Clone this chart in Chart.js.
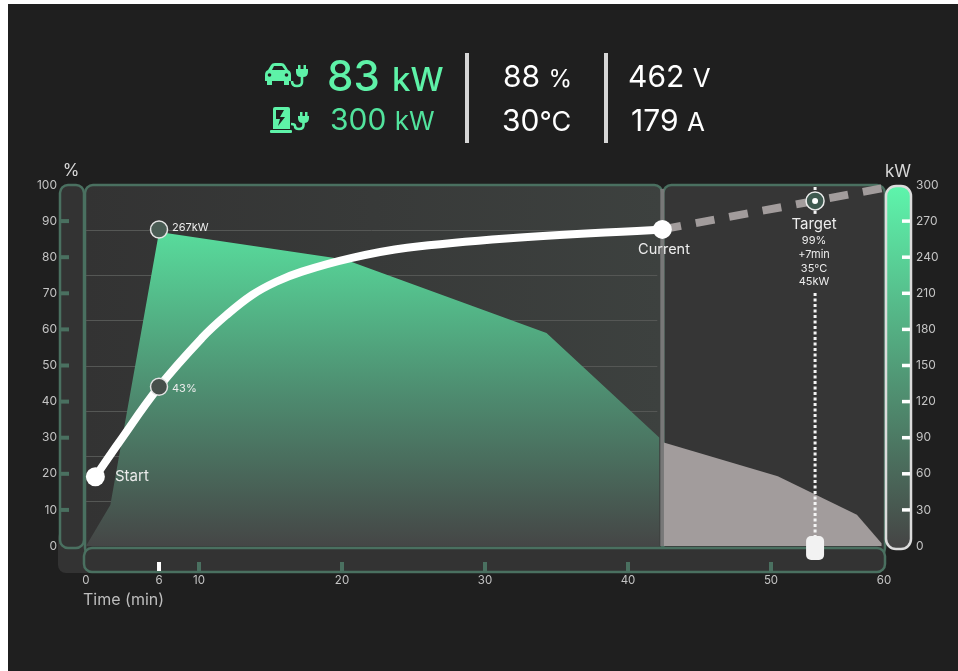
<!DOCTYPE html>
<html>
<head>
<meta charset="utf-8">
<title>Charging curve</title>
<script src="https://cdn.jsdelivr.net/npm/chart.js@4"></script>
<style>
  html, body { margin: 0; padding: 0; background: #fff; }
  body { width: 958px; height: 671px; position: relative; overflow: hidden; font-family: Inter, "Noto Sans", sans-serif; }
  #page { position: absolute; left: 8px; top: 4px; right: 0; bottom: 0; background: #1f1f1f; }
  canvas { position: absolute; left: 0; top: 0; }
  .num { position: absolute; white-space: nowrap; color: #fff; line-height: 1; transform: translateY(-50%); }
  .green { color: #5ef2a8; }
  .sep { position: absolute; top: 53px; width: 4px; height: 90px; background: #d6d6d6; }
  #icons { position: absolute; left: 255px; top: 55px; }
</style>
</head>
<body>
<div id="page"></div>
<canvas id="chart" width="958" height="671"></canvas>

<div class="num green" style="left:327px;top:76px;font-size:42px;font-weight:500">83 <span style="font-size:33px;margin-left:1px">kW</span></div>
<div class="num green" style="left:330px;top:119px;font-size:30px;color:#52e39d">300 <span style="font-size:26px">kW</span></div>
<div class="sep" style="left:465px"></div>
<div class="num" style="left:503px;top:76px;font-size:30px">88 <span style="font-size:24px">%</span></div>
<div class="num" style="left:502px;top:120px;font-size:30px">30<span style="font-size:27px">°C</span></div>
<div class="sep" style="left:604px"></div>
<div class="num" style="left:628px;top:76px;font-size:30px">462 <span style="font-size:26px">V</span></div>
<div class="num" style="left:631px;top:120px;font-size:30px">179 <span style="font-size:26px">A</span></div>

<svg id="icons" width="65" height="85" viewBox="255 55 65 85">
  <g fill="#5ef2a8">
    <path d="M268 70 L271 65 Q272 63 275 63 H281 Q284 63 285 65 L288 70 Q291 71 291 75 V81 H289 V85 H284 V81 H272 V85 H267 V81 H265 V75 Q265 71 268 70Z"/>
    <rect x="298" y="65" width="2.5" height="5"/>
    <rect x="303.5" y="65" width="2.5" height="5"/>
    <path d="M296 69 H308 V72 Q308 77 303 77 H301 Q296 77 296 72Z"/>
    <path d="M275 107 H288 Q290 107 290 109 V129 H273 V109 Q273 107 275 107Z"/>
    <rect x="270" y="130" width="22" height="3" rx="1"/>
    <rect x="300" y="112" width="2.5" height="5"/>
    <rect x="305" y="112" width="2.5" height="5"/>
    <path d="M298 116 H309 V118 Q309 123 304 123 H303 Q298 123 298 118Z"/>
  </g>
  <path d="M302 76 V82 Q302 86 297 86 Q292 86 292 81" fill="none" stroke="#5ef2a8" stroke-width="2.6"/>
  <path d="M303.5 122 V125 Q303.5 129 299 129 Q295 129 295 126 Q295 124 291 124" fill="none" stroke="#5ef2a8" stroke-width="2.6"/>
  <path d="M272 70 L274 66 H282 L285 70Z" fill="#1f1f1f"/>
  <circle cx="269.5" cy="75" r="1.8" fill="#1f1f1f"/>
  <circle cx="286.5" cy="75" r="1.8" fill="#1f1f1f"/>
  <path d="M276 110 H284 L280 117 H285 L278 126 L280 119 H276Z" fill="#1f1f1f"/>
</svg>

<script>
// x axis values (minutes)
const timeTicks = [0, 6, 10, 20, 30, 40, 50, 60];
const stripTicks = [6, 10, 20, 30, 40, 50];

// charger power, kW
const powerTime = [0, 2, 6, 20.2, 34.3, 42.2];
const powerKw = [0, 34, 261, 238, 177, 90];
const forecastTime = [42.5, 50.6, 57.6, 59.8];
const forecastKw = [86, 58, 26, 2];

// state of charge, %
const socTime = [0.77, 2.67, 6, 10.2, 11.9, 13.7, 15.4, 17.2, 20.7, 24.55, 31.5, 42.4];
const socPct = [19.2, 28.5, 44.1, 57.6, 63.9, 69.5, 73.2, 76, 79.8, 82.6, 85.2, 87.7];
const socForecastTime = [42.4, 53.9, 60];
const socForecastPct = [87.7, 95.6, 99.2];

const gridLevels = [12.5, 25, 37.5, 50, 62.5, 75, 87.5];
const targetLines = ['99%', '+7min', '35°C', '45kW'];

// axis isn't uniform in the design, so map time through these knots
const knotTime = [0, 6, 10, 50, 60];
const knotPos = [0, 0.0915, 0.1416, 0.8584, 1];

class PiecewiseScale extends Chart.LinearScale {
    getPixelForValue(value) {
        let i = 0;
        while (i < knotTime.length - 2 && value > knotTime[i + 1]) i++;
        const f = (value - knotTime[i]) / (knotTime[i + 1] - knotTime[i]);
        return this.getPixelForDecimal(knotPos[i] + f * (knotPos[i + 1] - knotPos[i]));
    }
}
PiecewiseScale.id = 'piecewise';
PiecewiseScale.defaults = {};
Chart.register(PiecewiseScale);

function zip(xs, ys) {
    return xs.map(function(x, i) { return { x: x, y: ys[i] }; });
}

function roundBox(ctx, x, y, w, h, r, fill, stroke, lw) {
    ctx.beginPath();
    ctx.roundRect(x, y, w, h, r);
    if (fill) { ctx.fillStyle = fill; ctx.fill(); }
    if (stroke) { ctx.strokeStyle = stroke; ctx.lineWidth = lw; ctx.stroke(); }
}

function label(ctx, text, x, y, size, align, color) {
    ctx.font = size + 'px Inter, "Noto Sans", sans-serif';
    ctx.textAlign = align;
    ctx.textBaseline = 'middle';
    ctx.fillStyle = color || '#ececec';
    ctx.fillText(text, x, y);
}

const PANEL_BORDER = '#4a7060';

// panels behind the marks
const panels = {
    id: 'panels',
    beforeDatasetsDraw(chart) {
        const ctx = chart.ctx, a = chart.chartArea, sx = chart.scales.x, sy = chart.scales.y, sk = chart.scales.y1;
        const split = sx.getPixelForValue(42.4);
        ctx.save();

        roundBox(ctx, 58, 530, 40, 43, 8, '#333333');
        roundBox(ctx, 60, a.top, 24, a.bottom - a.top + 2, 8, '#333333', PANEL_BORDER, 2.5);
        sy.ticks.forEach(function(t) {
            if (t.value === 0 || t.value === 100) return;
            ctx.fillStyle = PANEL_BORDER;
            ctx.fillRect(60, sy.getPixelForValue(t.value) - 2, 9, 4);
        });

        const g = ctx.createLinearGradient(85, 0, split, 0);
        g.addColorStop(0, '#333333');
        g.addColorStop(1, '#3d413f');
        roundBox(ctx, 85, a.top, split - 85, a.bottom - a.top + 10, 8, g, PANEL_BORDER, 2.5);
        roundBox(ctx, split + 1, a.top, a.right - split, a.bottom - a.top + 10, 8, '#363636', PANEL_BORDER, 2.5);
        ctx.fillStyle = '#787878';
        ctx.fillRect(split - 2, a.top + 4, 4, a.bottom - a.top - 4);

        ctx.strokeStyle = '#555755';
        ctx.lineWidth = 1;
        gridLevels.forEach(function(v) {
            const y = Math.round(sy.getPixelForValue(v)) + 0.5;
            ctx.beginPath();
            ctx.moveTo(a.left, y);
            ctx.lineTo(split - 5, y);
            ctx.stroke();
        });

        // time strip
        roundBox(ctx, 84, a.bottom + 2, a.right - 84 + 1, 24, 8, '#333333', PANEL_BORDER, 2.5);
        stripTicks.forEach(function(v) {
            ctx.fillStyle = v === 6 ? '#ffffff' : PANEL_BORDER;
            ctx.fillRect(sx.getPixelForValue(v) - 2, a.bottom + 16, 4, 9);
        });

        // kW bar
        const kg = ctx.createLinearGradient(0, a.top, 0, a.bottom);
        kg.addColorStop(0, '#5ef5ac');
        kg.addColorStop(1, '#454545');
        roundBox(ctx, 886, a.top + 1, 25, a.bottom - a.top + 2, 10, kg, '#dcdcdc', 2.5);
        sk.ticks.forEach(function(t) {
            if (t.value === 0 || t.value === 300) return;
            ctx.fillStyle = '#ffffff';
            ctx.fillRect(902, sk.getPixelForValue(t.value) - 1.75, 8, 3.5);
        });

        label(ctx, '%', 71, 171, 17, 'center', '#d8d8d8');
        label(ctx, 'kW', 898, 172, 17, 'center', '#d8d8d8');
        label(ctx, 'Time (min)', 83, 600, 16, 'left', '#bdbdbd');
        ctx.restore();
    },
    afterDatasetsDraw(chart) {
        const ctx = chart.ctx, a = chart.chartArea, sx = chart.scales.x, sy = chart.scales.y;
        const tx = sx.getPixelForValue(53.9), ty = sy.getPixelForValue(95.6);
        ctx.save();

        // target guide, broken around the marker and its text
        ctx.strokeStyle = '#f4f4f4';
        ctx.lineWidth = 3;
        ctx.setLineDash([3, 2.5]);
        [[a.top + 2, ty - 9], [ty + 10, ty + 15], [ty + 92, a.bottom - 8]].forEach(function(s) {
            ctx.beginPath();
            ctx.moveTo(tx, s[0]);
            ctx.lineTo(tx, s[1]);
            ctx.stroke();
        });
        ctx.setLineDash([]);

        ctx.fillStyle = '#ffffff';
        ctx.beginPath();
        ctx.arc(tx, ty, 3, 0, Math.PI * 2);
        ctx.fill();

        roundBox(ctx, tx - 9, a.bottom - 10, 18, 24, 5, '#f2f2f2');

        label(ctx, 'Target', tx - 1, 224, 15, 'center');
        targetLines.forEach(function(t, i) {
            label(ctx, t, tx - 1, 241 + i * 13.6, 11, 'center');
        });
        label(ctx, 'Start', 115, 476, 15, 'left');
        label(ctx, 'Current', 664, 250, 14.5, 'center');
        label(ctx, '267kW', 172, 227.5, 11, 'left');
        label(ctx, '43%', 172, 389, 11, 'left');
        ctx.restore();
    }
};

function areaGradient(context) {
    const c = context.chart;
    if (!c.chartArea) return '#4f8a70';
    const g = c.ctx.createLinearGradient(0, 232, 0, c.chartArea.bottom);
    g.addColorStop(0, '#58dc9c');
    g.addColorStop(0.5, '#4e8e71');
    g.addColorStop(1, '#454646');
    return g;
}

new Chart(document.getElementById('chart'), {
    type: 'line',
    data: {
        datasets: [
            {
                data: zip(powerTime, powerKw), yAxisID: 'y1', order: 6, fill: 'origin', clip: false,
                backgroundColor: areaGradient, borderWidth: 0, pointRadius: 0
            },
            {
                data: zip(forecastTime, forecastKw), yAxisID: 'y1', order: 5, fill: 'origin', clip: false,
                backgroundColor: '#a29c9c', borderWidth: 0, pointRadius: 0
            },
            {
                data: zip(socForecastTime, socForecastPct), yAxisID: 'y', order: 4, clip: false,
                borderColor: '#a29c9c', borderWidth: 8, borderDash: [19, 15], pointRadius: 0
            },
            {
                data: zip(socTime, socPct), yAxisID: 'y', order: 3, clip: false,
                borderColor: '#ffffff', borderWidth: 8, tension: 0.4, pointRadius: 0
            },
            // white end dots
            {
                data: zip([0.77, 42.4], [19.2, 87.7]), yAxisID: 'y', order: 2, showLine: false, clip: false,
                pointRadius: 9.5, pointBackgroundColor: '#ffffff', pointBorderWidth: 0
            },
            // SoC and power markers at 6 min, target marker
            {
                data: zip([6], [44.1]), yAxisID: 'y', order: 1, showLine: false, clip: false,
                pointRadius: 8.5, pointBackgroundColor: '#474f4b', pointBorderColor: '#e4e4e4', pointBorderWidth: 1.5
            },
            {
                data: zip([6], [263]), yAxisID: 'y1', order: 1, showLine: false, clip: false,
                pointRadius: 8.5, pointBackgroundColor: '#4a5c54', pointBorderColor: '#e4e4e4', pointBorderWidth: 1.5
            },
            {
                data: zip([53.9], [95.6]), yAxisID: 'y', order: 1, showLine: false, clip: false,
                pointRadius: 9, pointBackgroundColor: '#3f5a50', pointBorderColor: '#ececec', pointBorderWidth: 1.5
            }
        ]
    },
    options: {
        responsive: false,
        animation: false,
        layout: { padding: { top: 185, left: 0, right: 0, bottom: 0 } },
        plugins: { legend: { display: false }, tooltip: { enabled: false } },
        scales: {
            x: {
                type: 'piecewise', min: 0, max: 60,
                grid: { display: false }, border: { display: false },
                afterFit: function(s) { s.height = 125; },
                afterBuildTicks: function(s) { s.ticks = timeTicks.map(function(v) { return { value: v }; }); },
                ticks: {
                    color: '#c4c4c4', font: { family: 'Inter', size: 11.5 }, padding: 20,
                    autoSkip: false, maxRotation: 0, callback: function(v) { return String(v); }
                }
            },
            y: {
                position: 'left', min: 0, max: 100,
                grid: { display: false }, border: { display: false },
                afterFit: function(s) { s.width = 86; },
                ticks: { stepSize: 10, color: '#c4c4c4', font: { family: 'Inter', size: 12 }, padding: 21 }
            },
            y1: {
                position: 'right', min: 0, max: 300,
                grid: { display: false }, border: { display: false },
                afterFit: function(s) { s.width = 74; },
                ticks: { stepSize: 30, color: '#c4c4c4', font: { family: 'Inter', size: 12 }, padding: 24 }
            }
        }
    },
    plugins: [panels]
});
</script>
</body>
</html>
